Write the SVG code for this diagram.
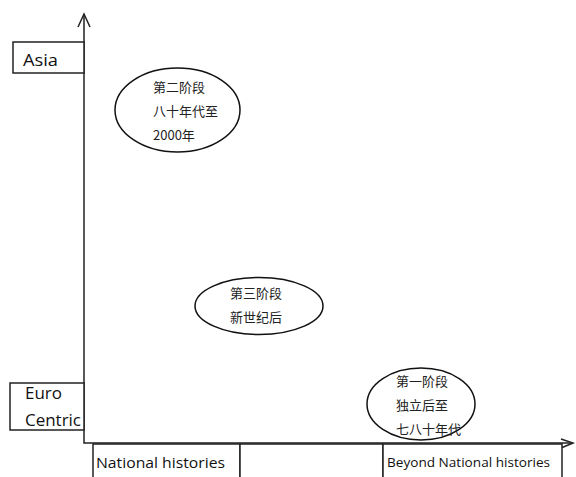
<svg xmlns="http://www.w3.org/2000/svg" width="576" height="477" viewBox="0 0 576 477">
<style>
.ln{fill:none;stroke:#222;stroke-width:1.5}
.bx{fill:#fff;stroke:#222;stroke-width:1.5}
.el{fill:#fff;stroke:#111;stroke-width:1.5}
.t{font-family:"Open Sans","Liberation Sans",sans-serif;fill:#111}
.c{font-family:"Noto Sans CJK SC",sans-serif;font-size:13px;fill:#222}
</style>
<rect width="576" height="477" fill="#fff"/>
<g id="connectors">
<path class="ln" d="M84,14 V443 H573"/>
<path class="ln" d="M78,27 L84,14 L90,27"/>
<path class="ln" d="M561,439 L573,443 L561,448"/>
</g>
<g id="asia"><rect class="bx" x="13" y="42" width="71" height="31"/><text class="t" x="23" y="66" font-size="16" textLength="35" lengthAdjust="spacingAndGlyphs">Asia</text></g>
<g id="euro"><rect class="bx" x="10" y="383" width="74" height="47"/><text class="t" x="25" y="399" font-size="16" textLength="37" lengthAdjust="spacingAndGlyphs">Euro</text><text class="t" x="25" y="426" font-size="16" textLength="56" lengthAdjust="spacingAndGlyphs">Centric</text></g>
<g id="national"><rect class="bx" x="93" y="444" width="147" height="40"/><text class="t" x="96" y="468" font-size="15" textLength="129" lengthAdjust="spacingAndGlyphs">National histories</text></g>
<g id="mid"><rect class="bx" x="240" y="444" width="143" height="40"/></g>
<g id="beyond"><rect class="bx" x="383" y="444" width="179" height="40"/><text class="t" x="387" y="467" font-size="13" textLength="163" lengthAdjust="spacingAndGlyphs">Beyond National histories</text></g>
<g id="stage2"><ellipse class="el" cx="177.5" cy="110" rx="62.5" ry="42"/><text class="c" x="153" y="92">第二阶段</text><text class="c" x="153" y="116">八十年代至</text><text class="c" x="153" y="140">2000年</text></g>
<g id="stage3"><ellipse class="el" cx="259" cy="306" rx="64" ry="28.5"/><text class="c" x="230" y="298">第三阶段</text><text class="c" x="230" y="322">新世纪后</text></g>
<g id="stage1"><ellipse class="el" cx="421" cy="404" rx="54" ry="36"/><text class="c" x="396" y="386">第一阶段</text><text class="c" x="396" y="410">独立后至</text><text class="c" x="396" y="434">七八十年代</text></g>
</svg>
